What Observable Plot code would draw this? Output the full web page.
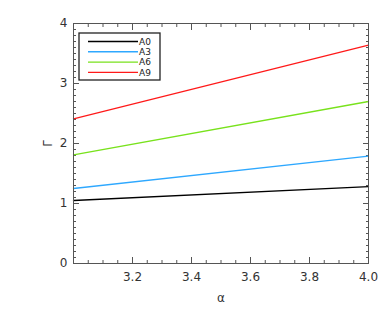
<!DOCTYPE html>
<html>
<head>
<meta charset="utf-8">
<script src="https://cdn.jsdelivr.net/npm/d3@7"></script>
<script src="https://cdn.jsdelivr.net/npm/@observablehq/plot@0.6"></script>
<style>
  html, body { margin: 0; padding: 0; background: #fff; }
  #chart { position: relative; width: 390px; height: 312px; }
</style>
</head>
<body>
<div id="chart"></div>
<script>
const alpha = [3.0, 4.0];
const seriesNames = ["A0", "A3", "A6", "A9"];
const seriesColors = ["#000000", "#2ea8ff", "#78e21c", "#ff1a1a"];
const A0 = [1.05, 1.28];
const A3 = [1.25, 1.79];
const A6 = [1.81, 2.70];
const A9 = [2.41, 3.64];
const xTickLabels = [3.2, 3.4, 3.6, 3.8, 4.0];
const yTickLabels = [0, 1, 2, 3, 4];

const valuesBySeries = [A0, A3, A6, A9];
const rows = [];
seriesNames.forEach((s, i) => alpha.forEach((a, j) => rows.push({series: s, alpha: a, gamma: valuesBySeries[i][j]})));

const xMajor = d3.range(3.0, 4.0001, 0.2);
const xMinor = d3.range(3.0, 4.0001, 0.05);
const yMajor = d3.range(0, 4.0001, 1);
const yMinor = d3.range(0, 4.0001, 0.1);

const font = "DejaVu Sans, sans-serif";
const tickCol = "#555";

const plot = Plot.plot({
  width: 390,
  height: 312,
  marginLeft: 73,
  marginRight: 22,
  marginTop: 23,
  marginBottom: 49,
  style: {fontFamily: font, fontSize: "12px", color: "#333", background: "#fff"},
  x: {domain: [3.0, 4.0]},
  y: {domain: [0, 4]},
  color: {domain: seriesNames, range: seriesColors},
  marks: [
    // inward ticks, all four sides
    Plot.axisX(xMinor, {anchor: "bottom", tickSize: -3, text: null, label: null, stroke: tickCol}),
    Plot.axisX(xMajor, {anchor: "bottom", tickSize: -6, text: null, label: null, stroke: tickCol}),
    Plot.axisX(xMinor, {anchor: "top", tickSize: -3, text: null, label: null, stroke: tickCol}),
    Plot.axisX(xMajor, {anchor: "top", tickSize: -6, text: null, label: null, stroke: tickCol}),
    Plot.axisY(yMinor, {anchor: "left", tickSize: -3, text: null, label: null, stroke: tickCol}),
    Plot.axisY(yMajor, {anchor: "left", tickSize: -6, text: null, label: null, stroke: tickCol}),
    Plot.axisY(yMinor, {anchor: "right", tickSize: -3, text: null, label: null, stroke: tickCol}),
    Plot.axisY(yMajor, {anchor: "right", tickSize: -6, text: null, label: null, stroke: tickCol}),
    // labels
    Plot.axisX(xTickLabels, {anchor: "bottom", tickSize: 0, tickPadding: 9, tickFormat: d3.format(".1f"),
      label: "α", labelAnchor: "center", labelArrow: "none", labelOffset: 38, fontSize: 12}),
    Plot.axisY(yTickLabels, {anchor: "left", tickSize: 0, tickPadding: 6, tickFormat: d3.format("d"),
      label: "Γ", labelAnchor: "center", labelArrow: "none", labelOffset: 30, fontSize: 12}),
    Plot.line(rows, {x: "alpha", y: "gamma", z: "series", stroke: "series", strokeWidth: 1.3}),
    Plot.frame({stroke: "#555", strokeWidth: 1})
  ]
});

document.getElementById("chart").appendChild(plot);

// Legend box inside the plot area (top-left)
const svg = d3.select(plot);
const lg = svg.append("g").attr("transform", "translate(79,33)");
lg.append("rect").attr("width", 81).attr("height", 47)
  .attr("fill", "#fff").attr("stroke", "#222").attr("stroke-width", 1.3);
seriesNames.forEach((s, i) => {
  const yy = 8.5 + i * 10.3;
  lg.append("line").attr("x1", 9).attr("x2", 59).attr("y1", yy).attr("y2", yy)
    .attr("stroke", seriesColors[i]).attr("stroke-width", 1.4);
  lg.append("text").attr("x", 66).attr("y", yy).attr("dy", "0.35em")
    .attr("font-family", font).attr("font-size", 9).attr("fill", "#222").text(s);
});
</script>
</body>
</html>
